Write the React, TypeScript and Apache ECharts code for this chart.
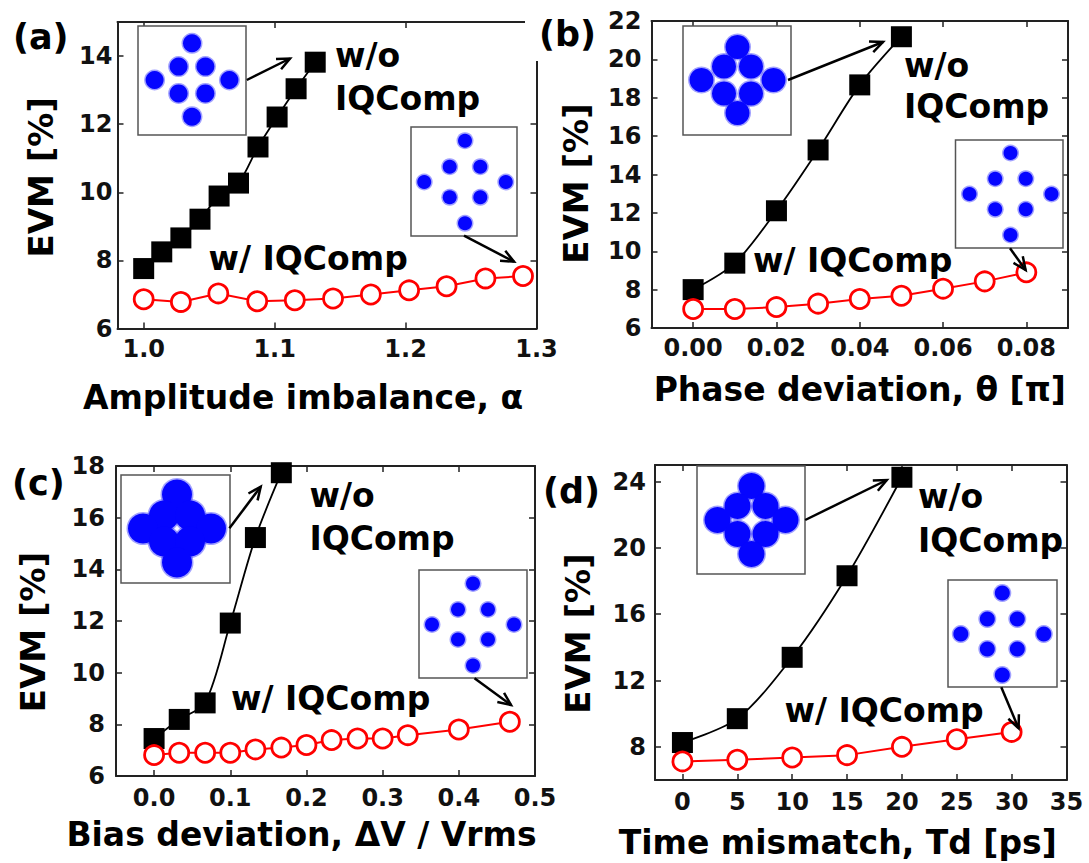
import React, { useEffect, useRef } from "react";
import * as echarts from "echarts";

// ---------- Panel (a): amplitude imbalance ----------
const aBlackX = [1.0, 1.0138, 1.0284, 1.043, 1.0576, 1.0724, 1.0873, 1.1019, 1.1164, 1.131];
const aBlackY = [7.76, 8.25, 8.66, 9.21, 9.89, 10.27, 11.33, 12.21, 13.04, 13.82];
const aRedX = [1.0, 1.0284, 1.057, 1.0867, 1.1154, 1.1446, 1.1735, 1.2027, 1.2313, 1.261, 1.2897];
const aRedY = [6.86, 6.78, 7.03, 6.8, 6.83, 6.88, 7.0, 7.12, 7.24, 7.47, 7.54];
const aXTicks = [1.0, 1.1, 1.2, 1.3];
const aYTicks = [6, 8, 10, 12, 14];

// ---------- Panel (b): phase deviation ----------
const bBlackX = [0, 0.01, 0.02, 0.03, 0.04, 0.05];
const bBlackY = [8.0, 9.38, 12.11, 15.28, 18.67, 21.18];
const bRedX = [0, 0.01, 0.02, 0.03, 0.04, 0.05, 0.06, 0.07, 0.08];
const bRedY = [6.99, 6.99, 7.09, 7.27, 7.51, 7.68, 8.05, 8.43, 8.9];
const bXTicks = [0, 0.02, 0.04, 0.06, 0.08];
const bYTicks = [6, 8, 10, 12, 14, 16, 18, 20, 22];

// ---------- Panel (c): bias deviation ----------
const cBlackX = [0, 0.033, 0.067, 0.1, 0.133, 0.167];
const cBlackY = [7.45, 8.19, 8.83, 11.92, 15.23, 17.74];
const cRedX = [0, 0.033, 0.067, 0.1, 0.133, 0.167, 0.2, 0.233, 0.267, 0.3, 0.333, 0.4, 0.467];
const cRedY = [6.81, 6.9, 6.9, 6.9, 7.03, 7.1, 7.2, 7.39, 7.45, 7.45, 7.58, 7.8, 8.1];
const cXTicks = [0, 0.1, 0.2, 0.3, 0.4, 0.5];
const cYTicks = [6, 8, 10, 12, 14, 16, 18];

// ---------- Panel (d): time mismatch ----------
const dBlackX = [0, 5, 10, 15, 20];
const dBlackY = [8.26, 9.7, 13.4, 18.32, 24.26];
const dRedX = [0, 5, 10, 15, 20, 25, 30];
const dRedY = [7.12, 7.22, 7.36, 7.5, 8.0, 8.46, 8.9];
const dXTicks = [0, 5, 10, 15, 20, 25, 30, 35];
const dYTicks = [8, 12, 16, 20, 24];

const panelLabels = ["(a)", "(b)", "(c)", "(d)"];
const xNames = [
  "Amplitude imbalance, \u03b1",
  "Phase deviation, \u03b8 [\u03c0]",
  "Bias deviation, \u0394V / Vrms",
  "Time mismatch, Td [ps]",
];
const yName = "EVM [%]";
const woLabel = ["w/o", "IQComp"];
const wLabel = "w/ IQComp";

const FONT = "DejaVu Sans";
const AX = "#222";

const zip = (xs: number[], ys: number[]) => xs.map((x, i) => [x, ys[i]]);

type PanelCfg = {
  grid: { left: number; top: number; width: number; height: number };
  xr: [number, number];
  yr: [number, number];
  xTicks: number[];
  yTicks: number[];
  xDec: number;
  xLabelMargin: number;
  xNameGap: number;
  xNameShift: number;
  yNameGap: number;
  yNameShift: number;
  yLabelMargin: number;
  black: number[][];
  red: number[][];
};

const panels: PanelCfg[] = [
  {
    grid: { left: 117.5, top: 22, width: 419, height: 306.5 },
    xr: [0.98, 1.3], yr: [6, 15], xTicks: aXTicks, yTicks: aYTicks, xDec: 1,
    xLabelMargin: 8, xNameGap: 52, xNameShift: 24, yNameGap: 60, yNameShift: 2, yLabelMargin: 5,
    black: zip(aBlackX, aBlackY), red: zip(aRedX, aRedY),
  },
  {
    grid: { left: 651.5, top: 21, width: 416.5, height: 307 },
    xr: [-0.01, 0.09], yr: [6, 22], xTicks: bXTicks, yTicks: bYTicks, xDec: 2,
    xLabelMargin: 8, xNameGap: 45, xNameShift: 0, yNameGap: 59, yNameShift: 9, yLabelMargin: 10,
    black: zip(bBlackX, bBlackY), red: zip(bRedX, bRedY),
  },
  {
    grid: { left: 116, top: 466, width: 419, height: 310 },
    xr: [-0.05, 0.5], yr: [6, 18], xTicks: cXTicks, yTicks: cYTicks, xDec: 1,
    xLabelMargin: 10, xNameGap: 42, xNameShift: 24, yNameGap: 66, yNameShift: 11, yLabelMargin: 11,
    black: zip(cBlackX, cBlackY), red: zip(cRedX, cRedY),
  },
  {
    grid: { left: 655, top: 465, width: 411.5, height: 315 },
    xr: [-2.5, 35], yr: [6, 25], xTicks: dXTicks, yTicks: dYTicks, xDec: 0,
    xLabelMargin: 10, xNameGap: 46, xNameShift: 23, yNameGap: 60, yNameShift: 11, yLabelMargin: 9,
    black: zip(dBlackX, dBlackY), red: zip(dRedX, dRedY),
  },
];

function arrow(x1: number, y1: number, x2: number, y2: number) {
  const ang = Math.atan2(y2 - y1, x2 - x1);
  const L = 14;
  const a = 0.42;
  const p1 = [x2 - L * Math.cos(ang - a), y2 - L * Math.sin(ang - a)];
  const p2 = [x2 - L * Math.cos(ang + a), y2 - L * Math.sin(ang + a)];
  return [
    { type: "line", z: 60, shape: { x1, y1, x2, y2 }, style: { stroke: "#000", lineWidth: 2.5 } },
    {
      type: "polyline", z: 60,
      shape: { points: [p1, [x2, y2], p2] },
      style: { stroke: "#000", lineWidth: 2.5, fill: null },
    },
  ];
}

function inset(
  bx: number, by: number, bw: number, bh: number,
  cx: number, cy: number, ox: number, oy: number, inn: number, r: number
) {
  const els: any[] = [
    {
      type: "rect", z: 50,
      shape: { x: bx, y: by, width: bw, height: bh },
      style: { fill: "#fff", stroke: "#555", lineWidth: 1.5 },
    },
  ];
  const pts = [[0, -oy], [-inn, -inn], [inn, -inn], [-ox, 0], [ox, 0], [-inn, inn], [inn, inn], [0, oy]];
  pts.forEach(([dx, dy]) =>
    els.push({
      type: "circle", z: 51,
      shape: { cx: cx + dx, cy: cy + dy, r: r + 1.5 },
      style: { fill: "rgba(20,20,255,0.4)" },
    })
  );
  pts.forEach(([dx, dy]) =>
    els.push({
      type: "circle", z: 52,
      shape: { cx: cx + dx, cy: cy + dy, r },
      style: { fill: "#0505ff" },
    })
  );
  return els;
}

function txt(s: string, x: number, baseline: number, size = 33) {
  return {
    type: "text", z: 70,
    style: {
      text: s, x, y: baseline - 0.346 * size,
      fontFamily: FONT, fontWeight: "bold", fontSize: size,
      fill: "#000", align: "left", verticalAlign: "middle",
    },
  };
}

export default function App() {
  const ref = useRef<HTMLDivElement>(null);

  useEffect(() => {
    if (!ref.current) return;
    const chart = echarts.init(ref.current, undefined, { renderer: "svg" });

    const grids: any[] = [];
    const xAxes: any[] = [];
    const yAxes: any[] = [];
    const series: any[] = [];

    panels.forEach((p, i) => {
      grids.push({ ...p.grid, containLabel: false });
      const lineStyle = { color: AX, width: 2 };
      const tickStyle = { color: AX, width: 1.5 };
      xAxes.push({
        type: "value", gridIndex: i, position: "bottom", min: p.xr[0], max: p.xr[1],
        axisLine: { show: true, onZero: false, lineStyle },
        axisTick: { show: true, inside: true, length: 6, customValues: p.xTicks, lineStyle: tickStyle },
        axisLabel: {
          customValues: p.xTicks, margin: p.xLabelMargin,
          formatter: (v: number) => v.toFixed(p.xDec),
          fontFamily: FONT, fontWeight: "bold", fontSize: 24, color: "#111",
        },
        splitLine: { show: false },
        name: xNames[i], nameLocation: "middle", nameGap: p.xNameGap,
        nameTextStyle: {
          fontFamily: FONT, fontWeight: "bold", fontSize: 33, color: "#000",
          padding: [0, p.xNameShift * 2, 0, 0],
        },
      });
      xAxes.push({
        type: "value", gridIndex: i, position: "top", min: p.xr[0], max: p.xr[1],
        axisLine: { show: true, onZero: false, lineStyle },
        axisTick: { show: true, inside: true, length: 6, customValues: p.xTicks, lineStyle: tickStyle },
        axisLabel: { show: false },
        splitLine: { show: false },
      });
      yAxes.push({
        type: "value", gridIndex: i, position: "left", min: p.yr[0], max: p.yr[1],
        axisLine: { show: true, onZero: false, lineStyle },
        axisTick: { show: true, inside: true, length: 6, customValues: p.yTicks, lineStyle: tickStyle },
        axisLabel: {
          customValues: p.yTicks, margin: p.yLabelMargin,
          fontFamily: FONT, fontWeight: "bold", fontSize: 24, color: "#111",
        },
        splitLine: { show: false },
        name: yName, nameLocation: "middle", nameGap: p.yNameGap,
        nameTextStyle: {
          fontFamily: FONT, fontWeight: "bold", fontSize: 34, color: "#000",
          padding: [0, p.yNameShift * 2, 0, 0],
        },
      });
      yAxes.push({
        type: "value", gridIndex: i, position: "right", min: p.yr[0], max: p.yr[1],
        axisLine: { show: true, onZero: false, lineStyle },
        axisTick: { show: true, inside: true, length: 6, customValues: p.yTicks, lineStyle: tickStyle },
        axisLabel: { show: false },
        splitLine: { show: false },
      });
      series.push({
        type: "line", name: "w/o IQComp", xAxisIndex: 2 * i, yAxisIndex: 2 * i,
        data: p.black, smooth: 0.3, symbol: "rect", symbolSize: 21,
        lineStyle: { color: "#000", width: 1.8 }, itemStyle: { color: "#000" }, z: 3,
      });
      series.push({
        type: "line", name: "w/ IQComp", xAxisIndex: 2 * i, yAxisIndex: 2 * i,
        data: p.red, smooth: false, symbol: "circle", symbolSize: 19,
        lineStyle: { color: "#ff0000", width: 2 },
        itemStyle: { color: "#ffffff", borderColor: "#ff0000", borderWidth: 2.8 }, z: 4,
      });
    });

    const graphic: any[] = [
      // panel labels
      {
        type: "rect", z: 65, shape: { x: 525, y: 0, width: 78, height: 61 },
        style: { fill: "#fff" },
      },
      txt(panelLabels[0], 13, 49, 35),
      txt(panelLabels[1], 539, 46, 35),
      txt(panelLabels[2], 12, 495, 35),
      txt(panelLabels[3], 543, 503, 35),
      // insets
      ...inset(138, 26, 108, 109, 192, 80, 37.4, 36.7, 13.4, 9),
      ...inset(411, 127, 106, 109, 465, 182, 40.8, 41.3, 15.3, 7),
      ...inset(683, 26, 108, 109, 737.5, 80, 36, 33, 13.5, 12),
      ...inset(955.5, 140, 107.5, 108, 1010.5, 194, 41, 41, 15.3, 7),
      ...inset(121, 475, 109, 108, 177, 528.5, 34, 34, 13, 15),
      ...inset(419, 570, 108, 108, 473, 624.5, 41, 41, 15, 7),
      ...inset(697, 466, 108, 108, 751.5, 520, 34, 34, 14, 13),
      ...inset(948, 580, 109, 107, 1002.3, 634, 41.5, 41, 15, 7.5),
      // arrows
      ...arrow(246.8, 80, 290, 58.5),
      ...arrow(464, 235.7, 514, 261.7),
      ...arrow(788, 80, 883, 42),
      ...arrow(1010, 248.3, 1025.6, 270),
      ...arrow(229.4, 528.3, 260.7, 486.7),
      ...arrow(474.5, 678.3, 511, 705),
      ...arrow(805.2, 520, 886.8, 480),
      ...arrow(1001.3, 687.3, 1018.6, 728.3),
      // annotations
      txt(woLabel[0], 335, 66.7), txt(woLabel[1], 335, 110), txt(wLabel, 208.5, 270),
      txt(woLabel[0], 904, 76.7), txt(woLabel[1], 904, 118.3), txt(wLabel, 753, 271.7),
      txt(woLabel[0], 309.4, 506.7), txt(woLabel[1], 309.4, 550), txt(wLabel, 231, 710),
      txt(woLabel[0], 918, 508.3), txt(woLabel[1], 918, 551.7), txt(wLabel, 784.4, 721.7),
    ];

    chart.setOption({
      animation: false,
      backgroundColor: "#fff",
      grid: grids,
      xAxis: xAxes,
      yAxis: yAxes,
      series,
      graphic,
    });

    return () => chart.dispose();
  }, []);

  return (
    <div
      ref={ref}
      style={{ position: "absolute", left: 0, top: 0, width: 1089, height: 863 }}
    />
  );
}
